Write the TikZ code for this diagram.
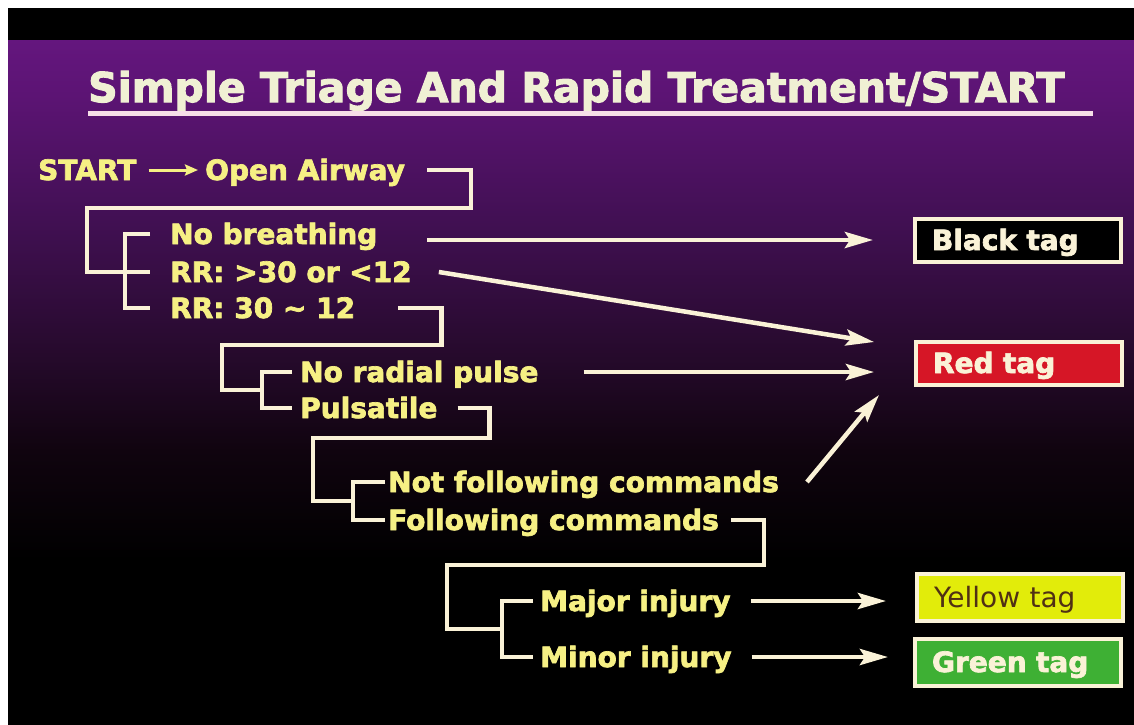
\documentclass[tikz,border=0pt]{standalone}
\usepackage{fontspec}
\setmainfont{DejaVu Sans}
\newfontfamily\heavy{DejaVu Sans}[BoldFeatures={FakeBold=2.5}]
\usepackage{tikz}
\usetikzlibrary{arrows.meta,positioning,calc}
\definecolor{slidetop}{RGB}{100,22,126}
\definecolor{slideupper}{RGB}{92,20,116}
\definecolor{slidemid}{RGB}{66,16,84}
\definecolor{slidelow}{RGB}{38,10,44}
\definecolor{slidedeep}{RGB}{16,4,15}
\definecolor{chalk}{RGB}{250,242,215}
\definecolor{labelyellow}{RGB}{246,240,132}
\definecolor{titlecream}{RGB}{240,240,212}
\definecolor{rulepink}{RGB}{246,222,232}
\definecolor{tagred}{RGB}{214,22,38}
\definecolor{tagyellow}{RGB}{226,236,10}
\definecolor{taggreen}{RGB}{62,176,52}
\definecolor{tagbrown}{RGB}{80,48,20}
% the path covers 25bp..75bp of the shading
\pgfdeclareverticalshading{slidebg}{100bp}{color(0bp)=(black); color(37bp)=(black); color(45bp)=(slidedeep); color(52bp)=(slidelow); color(62bp)=(slidemid); color(71bp)=(slideupper); color(75bp)=(slidetop); color(100bp)=(slidetop)}

\begin{document}
\begin{tikzpicture}[
    x=1pt, y=-1pt,
    >={Stealth[length=28pt,width=16pt,inset=5pt]},
    lbl/.style={anchor=west, inner sep=0pt, text height=20pt, text depth=0pt, text=labelyellow, font=\fontsize{28}{30}\selectfont\heavy\bfseries},
    link/.style={draw=chalk, line width=4.5pt},
    arrowline/.style={->, draw=chalk, line width=4.5pt},
    startarrow/.style={-{Stealth[length=13pt,width=11pt,inset=2pt]}, draw=labelyellow, line width=3pt, shorten <=12pt, shorten >=7pt},
    tagbox/.style={draw=chalk, line width=4pt, minimum height=43pt, text width=172pt, inner xsep=17pt, inner ysep=0pt, align=left, text height=20pt, text depth=0pt, font=\fontsize{28}{30}\selectfont\heavy\bfseries}
]
    % Slide background
    \fill[white] (0,0) rectangle (1134,724);
    \fill[black] (8,8) rectangle (1134,40);
    \shade[shading=slidebg] (8,40) rectangle (1134,724);
    \useasboundingbox (0,0) rectangle (1134,724);

    % Title
    \node[anchor=base west, inner sep=0pt, text=titlecream, font=\fontsize{41}{45}\selectfont\heavy\bfseries] (title) at (88,102) {Simple Triage And Rapid Treatment/START};
    \draw[draw=rulepink, line width=5pt] ([yshift=-11]title.base west) -- ([xshift=28,yshift=-11]title.base east);

    % Decision labels
    \node[lbl] (start) at (38,170) {START};
    \node[lbl] (airway) at (205,170) {Open Airway};
    \node[lbl] (nobreath) at (170,234) {No breathing};
    \node[lbl] (rrhigh) at (170,272) {RR: >30 or <12};
    \node[lbl] (rrmid) at (170,308) {RR: 30 \textasciitilde\ 12};
    \node[lbl] (noradial) at (300,372) {No radial pulse};
    \node[lbl] (pulsatile) at (300,408) {Pulsatile};
    \node[lbl] (notfollow) at (388,482) {Not following commands};
    \node[lbl] (following) at (388,520) {Following commands};
    \node[lbl] (major) at (540,601) {Major injury};
    \node[lbl] (minor) at (540,657) {Minor injury};

    % Tags
    \node[tagbox, fill=black, text=chalk] (black) at (1018,240) {Black tag};
    \node[tagbox, fill=tagred, text=chalk] (red) at (1019,363) {Red tag};
    \node[tagbox, fill=tagyellow, text=tagbrown, minimum height=47pt, font=\fontsize{28}{30}\selectfont] (yellow) at (1020,597) {Yellow tag};
    \node[tagbox, fill=taggreen, text=chalk, minimum height=47pt] (green) at (1018,662) {Green tag};

    % Branch joints and arrow ends
    \coordinate (j1) at ([xshift=-83]rrhigh.west);
    \coordinate (j2) at ($(noradial.west)!.5!(pulsatile.west)+(-38,0)$);
    \coordinate (j3) at ($(notfollow.west)!.5!(following.west)+(-35,0)$);
    \coordinate (j4) at ($(major.west)!.5!(minor.west)+(-38,0)$);
    \coordinate (blackin) at ([xshift=-40]black.west);
    \coordinate (redin) at ([xshift=-40]red.west);
    \coordinate (yellowin) at ([xshift=-29]yellow.west);
    \coordinate (greenin) at ([xshift=-25]green.west);

    % Tree connectors
    \draw[startarrow] (start.east) -- (airway.west);
    \draw[link] ([xshift=22]airway.east) -| ++(44,38) -| (j1) -- ([xshift=-20]rrhigh.west);
    \draw[link] ([xshift=-20]nobreath.west) -| ([xshift=-45]rrmid.west) -- ([xshift=-20]rrmid.west);
    \draw[link] ([xshift=43]rrmid.east) -| ++(43,37) -| ([xshift=-40]j2) -- (j2);
    \draw[link] ([xshift=-8]noradial.west) -| ([xshift=-38]pulsatile.west) -- ([xshift=-8]pulsatile.west);
    \draw[link] ([xshift=20]pulsatile.east) -| ++(32,30) -| ([xshift=-40]j3) -- (j3);
    \draw[link] ([xshift=-3]notfollow.west) -| ([xshift=-35]following.west) -- ([xshift=-3]following.west);
    \draw[link] ([xshift=12]following.east) -| ++(33,45) -| ([xshift=-55]j4) -- (j4);
    \draw[link] ([xshift=-7]major.west) -| ([xshift=-38]minor.west) -- ([xshift=-7]minor.west);

    % Arrows to tags
    \draw[arrowline] ([xshift=50,yshift=-6]nobreath.east) -- (blackin);
    \draw[arrowline] ([xshift=27]rrhigh.east) -- ([yshift=21]redin);
    \draw[arrowline] ([xshift=45]noradial.east) -- (redin |- noradial.east);
    \draw[arrowline] ([xshift=28]notfollow.east) -- ([xshift=5,yshift=-32]redin);
    \draw[arrowline] ([xshift=20]major.east) -- (yellowin |- major.east);
    \draw[arrowline] ([xshift=20]minor.east) -- (greenin |- minor.east);
\end{tikzpicture}
\end{document}
